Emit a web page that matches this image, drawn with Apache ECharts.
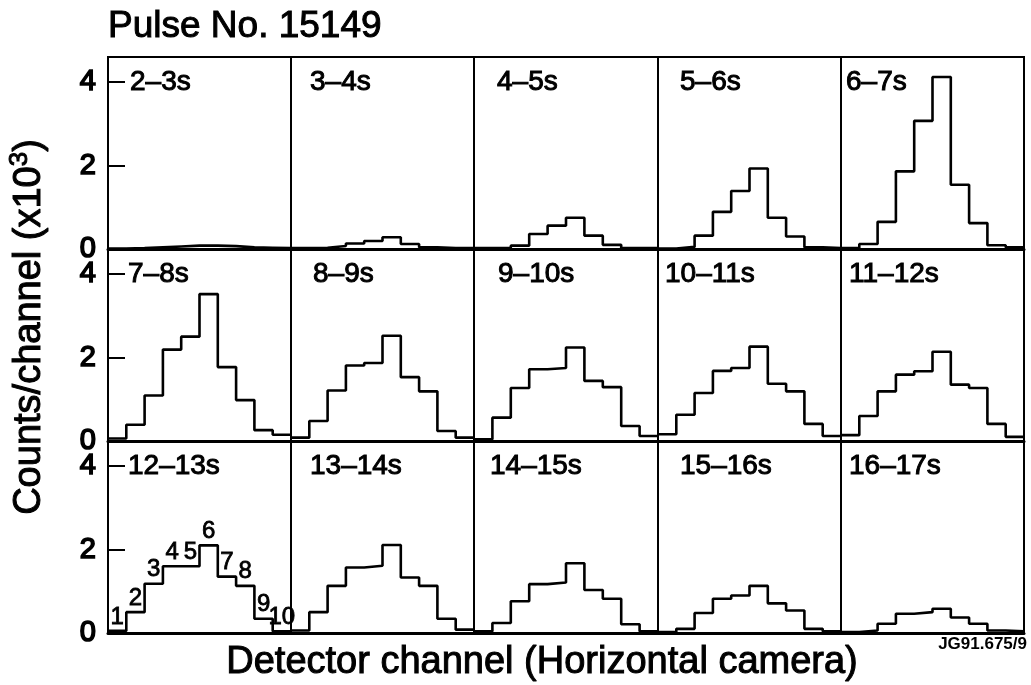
<!DOCTYPE html>
<html>
<head>
<meta charset="utf-8">
<script src="https://cdn.jsdelivr.net/npm/echarts@6/dist/echarts.min.js"></script>
<style>
  html, body { margin: 0; padding: 0; background: #fff; }
  #chart { width: 1031px; height: 685px; }
</style>
</head>
<body>
<div id="chart"></div>
<script>
// Detector channels of the horizontal camera
const channels = [1, 2, 3, 4, 5, 6, 7, 8, 9, 10];

// Time windows, one panel each
const windows = ['2–3s', '3–4s', '4–5s', '5–6s', '6–7s',
                 '7–8s', '8–9s', '9–10s', '10–11s', '11–12s',
                 '12–13s', '13–14s', '14–15s', '15–16s', '16–17s'];

// Counts per channel (x10^3) for each window
const w2_3   = [0.01, 0.02, 0.04, 0.06, 0.08, 0.08, 0.07, 0.04, 0.03, 0.02];
const w3_4   = [0.02, 0.03, 0.07, 0.13, 0.19, 0.28, 0.12, 0.04, 0.02, 0.02];
const w4_5   = [0.02, 0.03, 0.08, 0.36, 0.56, 0.75, 0.32, 0.10, 0.02, 0.02];
const w5_6   = [0.01, 0.05, 0.32, 0.89, 1.39, 1.93, 0.75, 0.30, 0.04, 0.02];
const w6_7   = [0.02, 0.12, 0.65, 1.86, 3.07, 4.12, 1.54, 0.62, 0.09, 0.04];
const w7_8   = [0.06, 0.39, 1.09, 2.19, 2.50, 3.52, 1.77, 0.98, 0.26, 0.15];
const w8_9   = [0.08, 0.48, 1.21, 1.81, 1.87, 2.52, 1.53, 1.19, 0.24, 0.08];
const w9_10  = [0.04, 0.56, 1.27, 1.72, 1.75, 2.24, 1.44, 1.29, 0.36, 0.12];
const w10_11 = [0.16, 0.63, 1.15, 1.68, 1.75, 2.26, 1.37, 1.19, 0.41, 0.12];
const w11_12 = [0.14, 0.60, 1.19, 1.59, 1.67, 2.14, 1.35, 1.27, 0.41, 0.10];
const w12_13 = [0.05, 0.50, 1.18, 1.60, 1.60, 2.10, 1.35, 1.13, 0.34, 0.04];
const w13_14 = [0.06, 0.50, 1.13, 1.57, 1.61, 2.11, 1.33, 1.13, 0.34, 0.08];
const w14_15 = [0.04, 0.24, 0.76, 1.17, 1.21, 1.67, 1.03, 0.82, 0.21, 0.04];
const w15_16 = [0.02, 0.10, 0.48, 0.82, 0.90, 1.13, 0.71, 0.54, 0.10, 0.04];
const w16_17 = [0.02, 0.06, 0.22, 0.46, 0.50, 0.58, 0.37, 0.22, 0.06, 0.04];

const counts = [w2_3, w3_4, w4_5, w5_6, w6_7,
                w7_8, w8_9, w9_10, w10_11, w11_12,
                w12_13, w13_14, w14_15, w15_16, w16_17];

// Value axis ticks and the window whose channels are numbered
const yTicks = [0, 2, 4];
const numberedWindow = '12–13s';

// ---- layout ----
const FONT = '"Liberation Sans", Arial, Helvetica, sans-serif';
const INK = '#000';
const FRAME = { left: 108, right: 1024, top: 57, bottom: 633 };
const COLS = 5, ROWS = 3;
const Y_MAX = 4.6;
const titleInset = [22, 19, 23, 22, 5,
                    20, 22, 24, 7, 8,
                    20, 19, 16, 22, 8];

const colEdge = c => Math.round(FRAME.left + c * (FRAME.right - FRAME.left) / COLS);
const rowEdge = r => Math.round(FRAME.top + r * (FRAME.bottom - FRAME.top) / ROWS);

// a thin outline of the same colour gives the type its heavier printed look
const inkText = (text, size, extra) => Object.assign({
  text: text, fill: INK, font: size + 'px ' + FONT,
  stroke: INK, lineWidth: 1
}, extra || {});

const grids = [], xAxes = [], yAxes = [], series = [], graphics = [];

windows.forEach((name, k) => {
  const r = Math.floor(k / COLS), c = k % COLS;
  const x0 = colEdge(c), x1 = colEdge(c + 1);
  const y0 = rowEdge(r), y1 = rowEdge(r + 1);
  grids.push({
    left: x0, top: y0, width: x1 - x0, height: y1 - y0,
    show: true, borderColor: INK, borderWidth: 2,
    backgroundColor: 'transparent'
  });
  xAxes.push({
    gridIndex: k, type: 'value', min: 0, max: channels.length,
    axisLine: { show: true, onZero: false, lineStyle: { color: INK, width: 3 } },
    axisTick: { show: false }, axisLabel: { show: false }, splitLine: { show: false }
  });
  yAxes.push({
    gridIndex: k, type: 'value', min: 0, max: Y_MAX, interval: 2,
    axisLine: { show: true, lineStyle: { color: INK, width: 2 } },
    axisTick: { show: c === 0, inside: true, length: 17, lineStyle: { color: INK, width: 2 } },
    axisLabel: {
      show: c === 0, margin: 12, color: INK, fontSize: 29, fontFamily: FONT,
      textBorderColor: INK, textBorderWidth: 1.6,
      showMaxLabel: false,
      formatter: v => (yTicks.indexOf(v) >= 0 ? String(v) : '')
    },
    splitLine: { show: false }
  });

  // Step histogram: each channel occupies [ch-1, ch] on the x axis
  const vals = counts[k];
  const stepData = channels.map((ch, i) => [ch - 1, vals[i]]);
  stepData.push([channels[channels.length - 1], vals[vals.length - 1]]);
  series.push({
    type: 'line', xAxisIndex: k, yAxisIndex: k,
    data: stepData, step: 'end', symbol: 'none', clip: false,
    lineStyle: { color: INK, width: 2.6 }, silent: true
  });

  if (name === numberedWindow) {
    series.push({
      type: 'scatter', xAxisIndex: k, yAxisIndex: k,
      data: channels.map((ch, i) => [ch - 0.5, vals[i]]),
      symbolSize: 0, clip: false, silent: true,
      itemStyle: { opacity: 1, color: INK },
      label: {
        show: true, position: 'top', distance: 2,
        formatter: p => String(channels[p.dataIndex]),
        color: INK, opacity: 1, fontSize: 24, fontFamily: FONT,
        textBorderColor: INK, textBorderWidth: 0.8
      }
    });
  }

  graphics.push({
    type: 'text', x: x0 + titleInset[k], y: y0 + 25, z: 10,
    style: inkText(name, 28, { textAlign: 'left', textVerticalAlign: 'middle' })
  });
});

graphics.push(
  {
    type: 'text', x: 108, y: 27,
    style: inkText('Pulse No. 15149', 37, { textAlign: 'left', textVerticalAlign: 'middle' })
  },
  {
    type: 'text', x: 542, y: 663,
    style: inkText('Detector channel (Horizontal camera)', 38,
                   { textAlign: 'center', textVerticalAlign: 'middle' })
  },
  {
    type: 'text', x: 30, y: 327, rotation: Math.PI / 2,
    style: {
      text: '{n|Counts/channel (x10}{s|3}{n|)}',
      textAlign: 'center', textVerticalAlign: 'middle',
      rich: {
        n: { fontSize: 38, fontFamily: FONT, fill: INK, stroke: INK, lineWidth: 1,
             lineHeight: 46 },
        s: { fontSize: 26, fontFamily: FONT, fill: INK, stroke: INK, lineWidth: 1,
             lineHeight: 26, verticalAlign: 'top' }
      }
    }
  },
  {
    type: 'text', x: 1027, y: 644,
    style: { text: 'JG91.675/9', fill: INK, font: 'bold 17px ' + FONT,
             textAlign: 'right', textVerticalAlign: 'middle' }
  }
);

const chart = echarts.init(document.getElementById('chart'), null, { renderer: 'canvas' });
chart.setOption({
  animation: false,
  backgroundColor: '#fff',
  grid: grids, xAxis: xAxes, yAxis: yAxes, series: series,
  graphic: graphics
});
</script>
</body>
</html>
